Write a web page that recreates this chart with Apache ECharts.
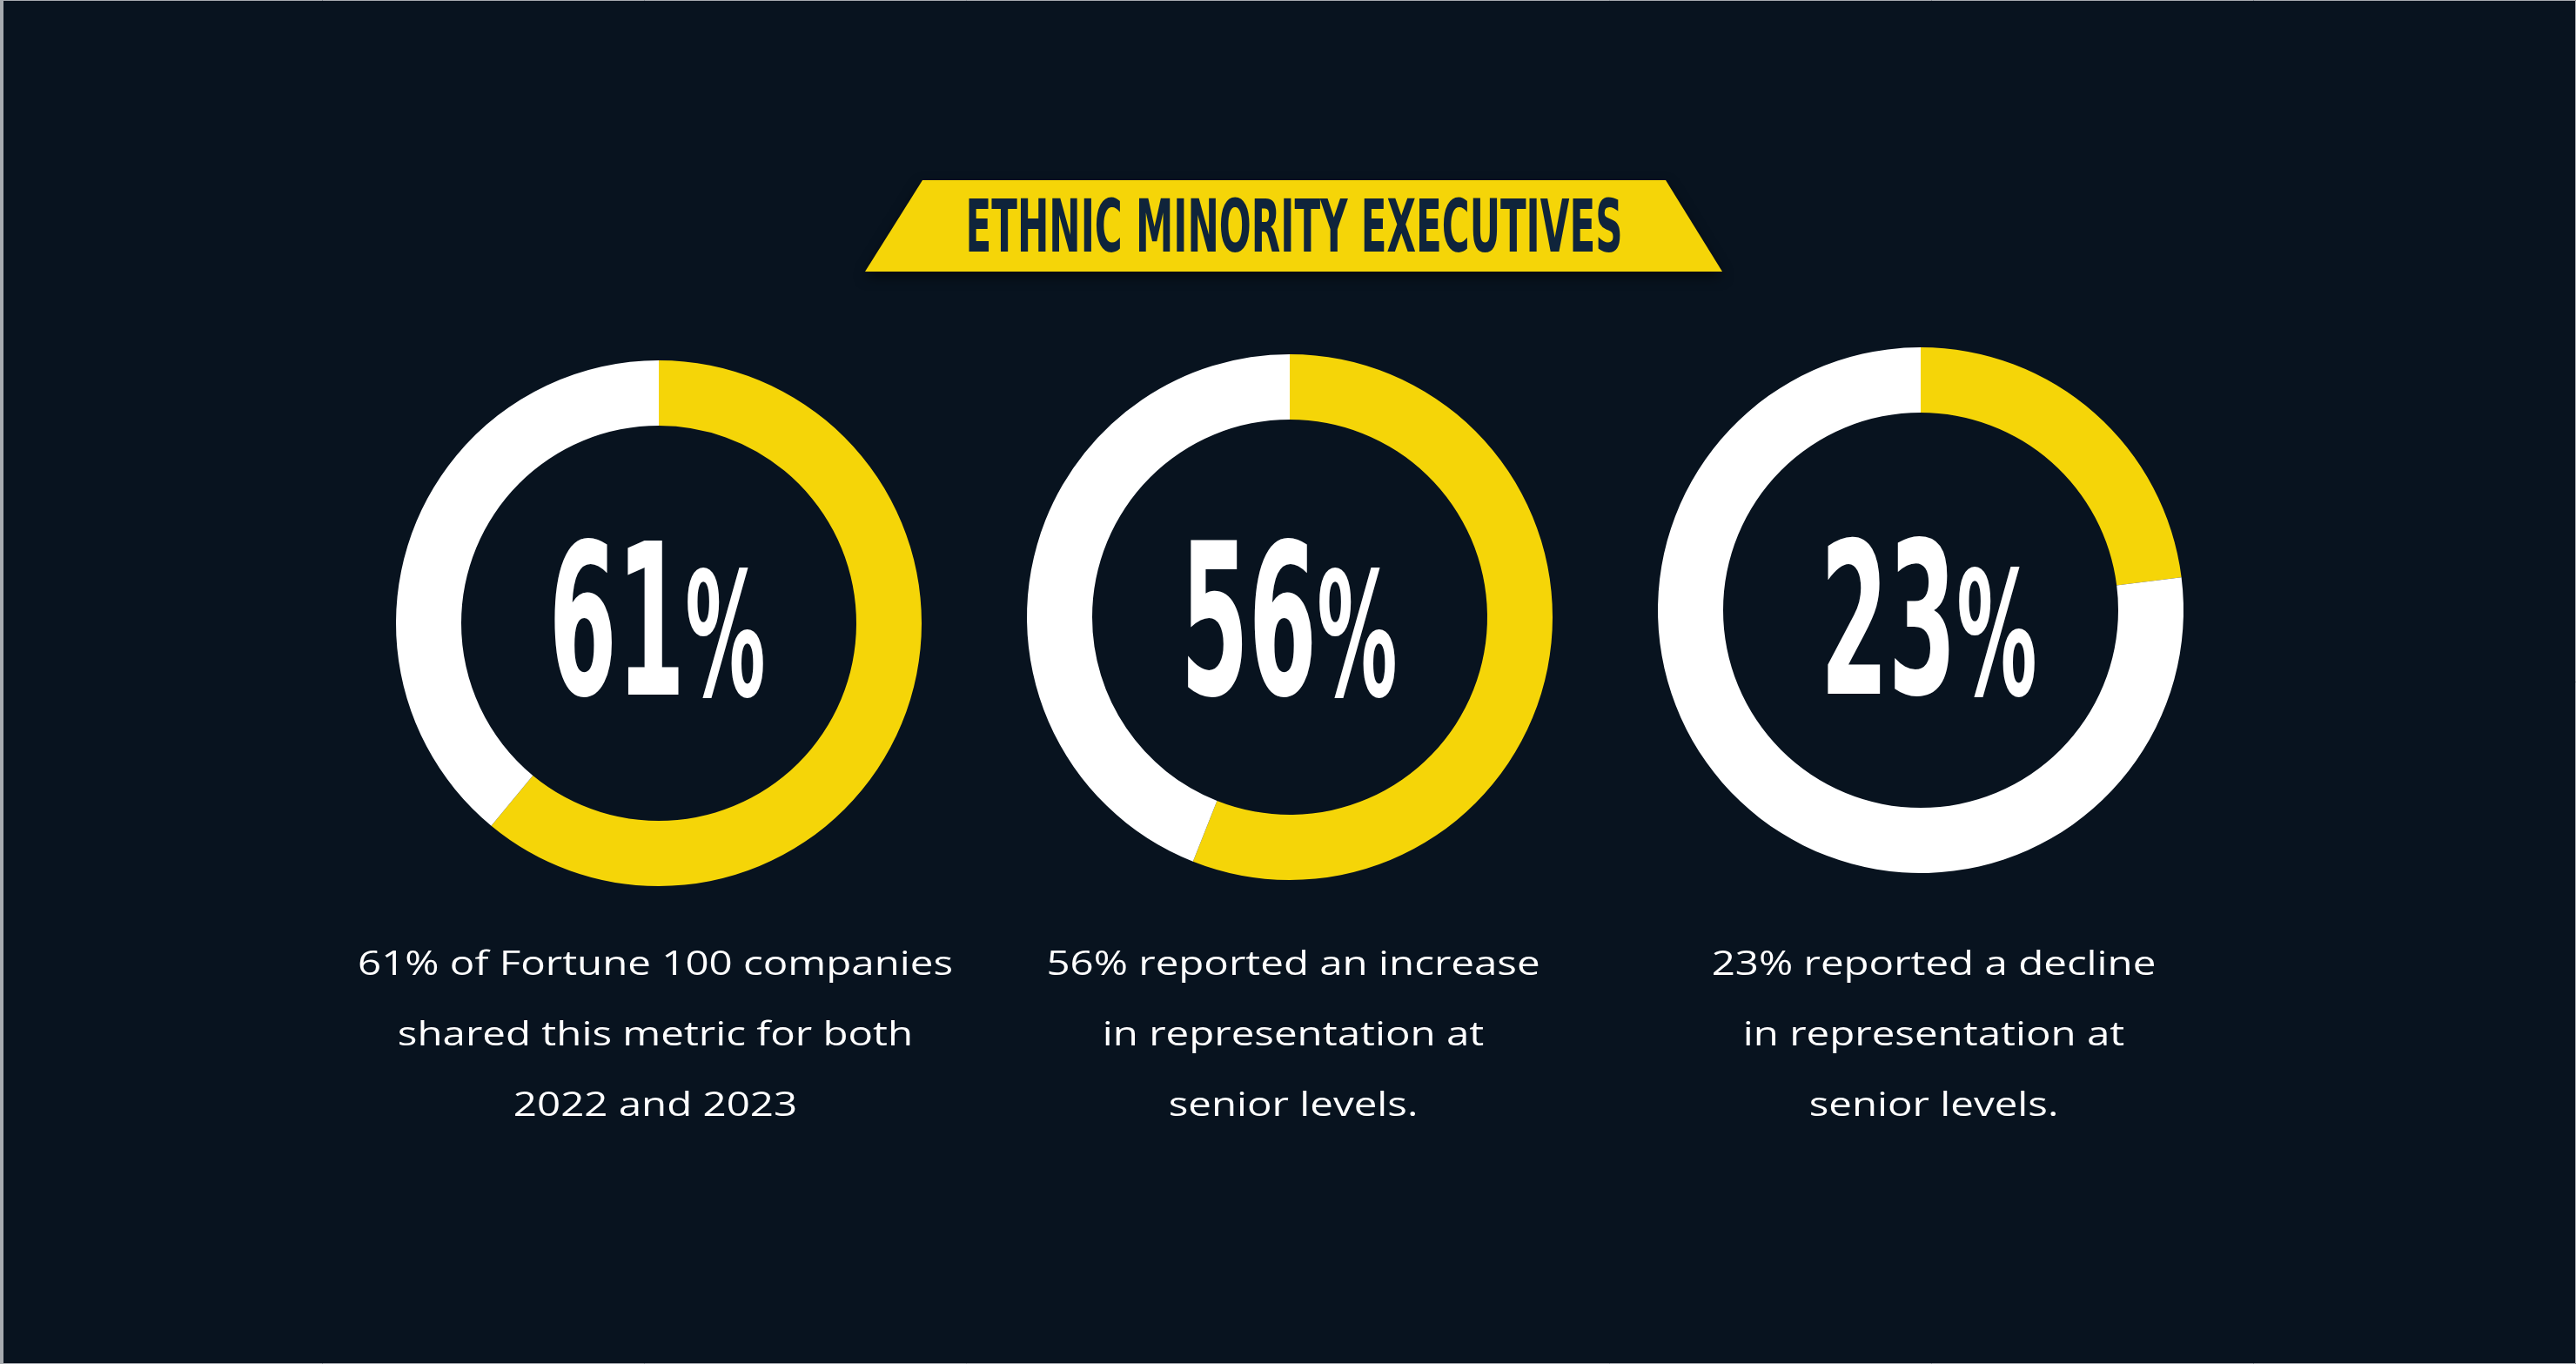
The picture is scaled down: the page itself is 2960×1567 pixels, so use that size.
<!DOCTYPE html>
<html><head><meta charset="utf-8">
<script src="https://cdn.jsdelivr.net/npm/echarts@6/dist/echarts.min.js"></script>
<style>html,body{margin:0;padding:0;background:#08131f;overflow:hidden}#c{width:2960px;height:1567px}</style>
</head><body><div id="c"></div>
<script>
// ---- data ----
const title = 'ETHNIC MINORITY EXECUTIVES';
const metrics = ['Shared metric for 2022 and 2023', 'Reported an increase', 'Reported a decline'];
const percents = [61, 56, 23];
const descriptions = [
  ['61% of Fortune 100 companies', 'shared this metric for both', '2022 and 2023'],
  ['56% reported an increase', 'in representation at', 'senior levels.'],
  ['23% reported a decline', 'in representation at', 'senior levels.']
];

// ---- style / layout ----
const YELLOW = '#f5d508', WHITE = '#ffffff', BG = '#08131f', NAVY = '#0f243b';
const pieCenters = [[757, 716], [1482, 709], [2207, 701]];
const numCenters = [[755, 735], [1481, 735], [2216, 734]];
const descX = [753, 1486, 2222];
const CONDENSED = '"Liberation Sans Narrow","DejaVu Sans Condensed","Liberation Sans",sans-serif';
const BODY = '"Open Sans","Noto Sans",sans-serif';

function measure(text, weight, size, family) {
  const c = document.createElement('canvas').getContext('2d');
  c.font = weight + ' ' + size + 'px ' + family;
  return c.measureText(text).width;
}

const titleSize = 84;
const titleScale = 755 / measure(title, 'bold', titleSize, CONDENSED);
const numSize = 242, pctSize = 198;
const numScale = 249 / (measure(String(percents[0]), 'bold', numSize, CONDENSED) + measure('%', 'bold', pctSize, CONDENSED));
const descSize = 38;
const descScale = 684 / measure(descriptions[0][0], 'normal', descSize, BODY);

const chart = echarts.init(document.getElementById('c'), null, { renderer: 'canvas' });

const series = percents.map((p, i) => ({
  type: 'pie',
  center: pieCenters[i],
  radius: [227, 302],
  startAngle: 90,
  clockwise: true,
  silent: true,
  animation: false,
  label: { show: false },
  labelLine: { show: false },
  emphasis: { disabled: true },
  itemStyle: { borderWidth: 0 },
  data: [
    { name: metrics[i], value: p, itemStyle: { color: YELLOW } },
    { name: 'Other', value: 100 - p, itemStyle: { color: WHITE } }
  ]
}));

const graphics = [
  { type: 'rect', z: 0, shape: { x: 0.5, y: 0.5, width: 2959, height: 1566 }, style: { fill: null, stroke: '#a7abb0', lineWidth: 1 } },
  { type: 'rect', z: 0, shape: { x: 0, y: 0, width: 4, height: 1567 }, style: { fill: '#a7abb0' } },
  {
    type: 'polygon', z: 1,
    shape: { points: [[994, 312], [1060, 207], [1914, 207], [1979, 312]] },
    style: { fill: YELLOW, shadowBlur: 14, shadowOffsetY: 6, shadowColor: 'rgba(0,0,0,0.55)' }
  },
  {
    type: 'text', z: 2, x: 1487, y: 267, scaleX: titleScale,
    style: { text: title, fill: NAVY, fontFamily: CONDENSED, fontWeight: 'bold', fontSize: titleSize, align: 'center', verticalAlign: 'middle' }
  }
];

percents.forEach((p, i) => {
  graphics.push({
    type: 'text', z: 2, x: numCenters[i][0], y: numCenters[i][1], scaleX: numScale,
    style: {
      text: '{d|' + p + '}{p|%}', fill: WHITE, align: 'center', verticalAlign: 'middle',
      rich: {
        d: { fill: WHITE, fontFamily: CONDENSED, fontWeight: 'bold', fontSize: numSize, verticalAlign: 'bottom' },
        p: { fill: WHITE, fontFamily: CONDENSED, fontWeight: 'bold', fontSize: pctSize, verticalAlign: 'bottom', padding: [0, 0, 9, 0] }
      }
    }
  });
  graphics.push({
    type: 'text', z: 2, x: descX[i], y: 1190, scaleX: descScale,
    style: { text: descriptions[i].join('\n'), fill: WHITE, fontFamily: BODY, fontWeight: 'normal', fontSize: descSize, lineHeight: 81, align: 'center', verticalAlign: 'middle' }
  });
});

chart.setOption({
  backgroundColor: BG,
  animation: false,
  series: series,
  graphic: graphics
});
</script>
</body></html>
